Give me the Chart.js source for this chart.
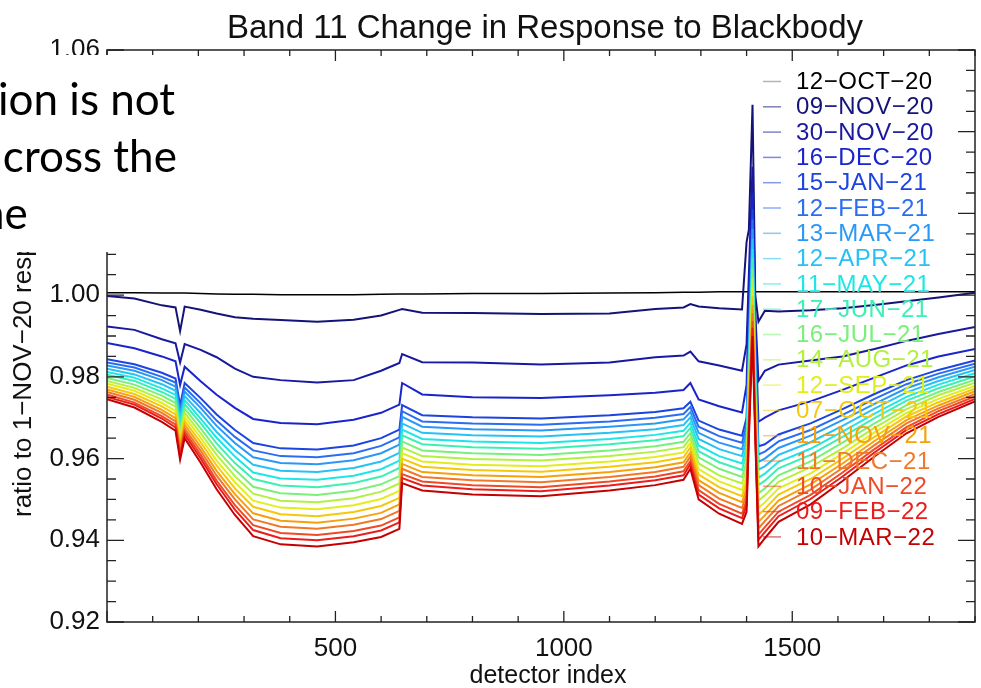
<!DOCTYPE html>
<html>
<head>
<meta charset="utf-8">
<title>Band 11 Change in Response to Blackbody</title>
<script src="https://cdn.jsdelivr.net/npm/chart.js@4.4.1/dist/chart.umd.min.js"></script>
<style>
  html, body { margin: 0; padding: 0; background: #fff; }
  #wrap { width: 981px; height: 688px; }
</style>
</head>
<body>
<div id="wrap"><canvas id="chart" width="981" height="688"></canvas></div>
<script>
"use strict"

const detectorIndex = [0, 60, 120, 150, 160, 170, 205, 240, 280, 320, 380, 460, 540, 600, 640, 646, 690, 800, 950, 1100,
  1200, 1262, 1277, 1295, 1340, 1390, 1400, 1405, 1413, 1419, 1426, 1440, 1470, 1540, 1610, 1680, 1750, 1820, 1900]

const dates = ["12-OCT-20", "09-NOV-20", "30-NOV-20", "16-DEC-20", "15-JAN-21", "12-FEB-21", "13-MAR-21",
  "12-APR-21", "11-MAY-21", "17-JUN-21", "16-JUL-21", "14-AUG-21", "12-SEP-21", "07-OCT-21", "11-NOV-21",
  "11-DEC-21", "10-JAN-22", "09-FEB-22", "10-MAR-22"]

const lineColors = ["#000000", "#141478", "#1818a0", "#1a24cc", "#1c44e0", "#2a6cf2", "#2a98f6", "#26c2f6",
  "#1ee6e6", "#3cf0b4", "#7af07a", "#b4f040", "#e2ee1c", "#f6c80c", "#f6a00c", "#f07828", "#ee4a26",
  "#ec1c1c", "#c40000"]

const xTickLabels = [500, 1000, 1500]
const yTickLabels = [0.92, 0.94, 0.96, 0.98, 1.00, 1.02, 1.04, 1.06]

// ratio curves, one per date
const oct12_20 = [1.0006, 1.0006, 1.0005, 1.0005, 1.0005, 1.0005, 1.0004, 1.0003, 1.0002, 1.0002, 1.0001, 1.0001, 1.0001,
  1.0002, 1.0003, 1.0003, 1.0003, 1.0004, 1.0004, 1.0005, 1.0006, 1.0007, 1.0007, 1.0007, 1.0008, 1.0008, 1.0008,
  1.0008, 1.0008, 1.0008, 1.0008, 1.0008, 1.0008, 1.0008, 1.0008, 1.0008, 1.0008, 1.0008, 1.0008]
const nov09_20 = [0.9998, 0.9992, 0.9975, 0.9970, 0.9912, 0.9972, 0.9964, 0.9955, 0.9946, 0.9942, 0.9939, 0.9935, 0.9940,
  0.9950, 0.9964, 0.9966, 0.9957, 0.9956, 0.9954, 0.9955, 0.9966, 0.9970, 0.9978, 0.9972, 0.9968, 0.9965, 1.0130,
  1.0160, 1.0466, 1.0000, 0.9935, 0.9962, 0.9960, 0.9963, 0.9968, 0.9976, 0.9985, 0.9994, 1.0006]
const nov30_20 = [0.9923, 0.9915, 0.9892, 0.9882, 0.9835, 0.9880, 0.9866, 0.9848, 0.9820, 0.9800, 0.9792, 0.9786, 0.9792,
  0.9815, 0.9834, 0.9856, 0.9836, 0.9835, 0.9830, 0.9835, 0.9848, 0.9852, 0.9862, 0.9838, 0.9828, 0.9815, 0.9880,
  1.0050, 1.0314, 0.9960, 0.9790, 0.9815, 0.9830, 0.9840, 0.9850, 0.9868, 0.9888, 0.9905, 0.9922]
const dec16_20 = [0.9883, 0.9870, 0.9850, 0.9838, 0.9780, 0.9825, 0.9789, 0.9756, 0.9724, 0.9697, 0.9687, 0.9684, 0.9695,
  0.9712, 0.9732, 0.9785, 0.9757, 0.9750, 0.9748, 0.9755, 0.9761, 0.9768, 0.9785, 0.9745, 0.9728, 0.9713, 0.9780,
  1.0000, 1.0250, 0.9930, 0.9690, 0.9700, 0.9718, 0.9740, 0.9768, 0.9798, 0.9828, 0.9850, 0.9868]
const jan15_21 = [0.9843, 0.9831, 0.9810, 0.9796, 0.9730, 0.9785, 0.9748, 0.9708, 0.9670, 0.9638, 0.9625, 0.9622, 0.9632,
  0.9650, 0.9671, 0.9731, 0.9706, 0.9701, 0.9698, 0.9706, 0.9714, 0.9723, 0.9739, 0.9693, 0.9671, 0.9656, 0.9700,
  0.9900, 1.0210, 0.9880, 0.9630, 0.9635, 0.9659, 0.9686, 0.9721, 0.9758, 0.9792, 0.9817, 0.9840]
const feb12_21 = [0.9835, 0.9823, 0.9800, 0.9786, 0.9719, 0.9774, 0.9735, 0.9693, 0.9653, 0.9620, 0.9606, 0.9603, 0.9613,
  0.9631, 0.9652, 0.9716, 0.9691, 0.9686, 0.9683, 0.9691, 0.9700, 0.9709, 0.9726, 0.9678, 0.9655, 0.9639, 0.9682,
  0.9880, 1.0185, 0.9862, 0.9610, 0.9617, 0.9642, 0.9670, 0.9707, 0.9746, 0.9782, 0.9808, 0.9832]
const mar13_21 = [0.9828, 0.9815, 0.9792, 0.9776, 0.9710, 0.9764, 0.9724, 0.9680, 0.9638, 0.9603, 0.9589, 0.9586, 0.9596,
  0.9613, 0.9634, 0.9702, 0.9678, 0.9672, 0.9669, 0.9678, 0.9686, 0.9696, 0.9714, 0.9663, 0.9639, 0.9623, 0.9665,
  0.9862, 1.0162, 0.9845, 0.9592, 0.9600, 0.9626, 0.9656, 0.9694, 0.9734, 0.9772, 0.9799, 0.9825]
const apr12_21 = [0.9820, 0.9806, 0.9782, 0.9766, 0.9699, 0.9753, 0.9711, 0.9665, 0.9621, 0.9585, 0.9570, 0.9567, 0.9577,
  0.9593, 0.9614, 0.9686, 0.9663, 0.9657, 0.9654, 0.9663, 0.9672, 0.9682, 0.9701, 0.9648, 0.9623, 0.9606, 0.9646,
  0.9842, 1.0138, 0.9826, 0.9573, 0.9581, 0.9609, 0.9640, 0.9680, 0.9722, 0.9762, 0.9790, 0.9817]
const may11_21 = [0.9812, 0.9798, 0.9772, 0.9756, 0.9688, 0.9743, 0.9698, 0.9651, 0.9605, 0.9566, 0.9551, 0.9548, 0.9558,
  0.9574, 0.9595, 0.9671, 0.9648, 0.9642, 0.9638, 0.9648, 0.9658, 0.9668, 0.9688, 0.9632, 0.9606, 0.9588, 0.9628,
  0.9822, 1.0113, 0.9808, 0.9553, 0.9563, 0.9592, 0.9624, 0.9666, 0.9710, 0.9751, 0.9781, 0.9809]
const jun17_21 = [0.9805, 0.9790, 0.9763, 0.9746, 0.9678, 0.9733, 0.9687, 0.9637, 0.9589, 0.9550, 0.9534, 0.9530, 0.9540,
  0.9556, 0.9577, 0.9657, 0.9635, 0.9628, 0.9624, 0.9635, 0.9645, 0.9655, 0.9675, 0.9618, 0.9591, 0.9572, 0.9611,
  0.9803, 1.0090, 0.9791, 0.9535, 0.9546, 0.9576, 0.9609, 0.9653, 0.9699, 0.9742, 0.9772, 0.9801]
const jul16_21 = [0.9797, 0.9781, 0.9754, 0.9736, 0.9668, 0.9722, 0.9674, 0.9622, 0.9573, 0.9531, 0.9515, 0.9511, 0.9521,
  0.9537, 0.9557, 0.9642, 0.9620, 0.9613, 0.9609, 0.9620, 0.9630, 0.9641, 0.9662, 0.9603, 0.9575, 0.9555, 0.9592,
  0.9783, 1.0065, 0.9772, 0.9515, 0.9527, 0.9559, 0.9593, 0.9639, 0.9686, 0.9731, 0.9763, 0.9793]
const aug14_21 = [0.9790, 0.9773, 0.9745, 0.9727, 0.9658, 0.9712, 0.9662, 0.9609, 0.9557, 0.9514, 0.9497, 0.9493, 0.9503,
  0.9519, 0.9539, 0.9627, 0.9606, 0.9599, 0.9595, 0.9606, 0.9617, 0.9628, 0.9650, 0.9588, 0.9559, 0.9539, 0.9575,
  0.9764, 1.0042, 0.9755, 0.9497, 0.9510, 0.9543, 0.9579, 0.9625, 0.9675, 0.9721, 0.9755, 0.9786]
const sep12_21 = [0.9783, 0.9766, 0.9736, 0.9717, 0.9648, 0.9702, 0.9651, 0.9595, 0.9542, 0.9497, 0.9480, 0.9476, 0.9486,
  0.9501, 0.9521, 0.9613, 0.9593, 0.9585, 0.9581, 0.9593, 0.9604, 0.9615, 0.9638, 0.9574, 0.9544, 0.9523, 0.9558,
  0.9746, 1.0019, 0.9738, 0.9479, 0.9493, 0.9527, 0.9564, 0.9612, 0.9664, 0.9712, 0.9746, 0.9778]
const oct07_21 = [0.9776, 0.9758, 0.9728, 0.9708, 0.9639, 0.9692, 0.9640, 0.9583, 0.9527, 0.9482, 0.9464, 0.9459, 0.9469,
  0.9484, 0.9504, 0.9600, 0.9580, 0.9572, 0.9568, 0.9580, 0.9591, 0.9603, 0.9627, 0.9561, 0.9530, 0.9508, 0.9542,
  0.9729, 0.9997, 0.9722, 0.9462, 0.9477, 0.9512, 0.9550, 0.9600, 0.9653, 0.9703, 0.9738, 0.9771]
const nov11_21 = [0.9769, 0.9751, 0.9719, 0.9699, 0.9630, 0.9683, 0.9629, 0.9570, 0.9513, 0.9466, 0.9448, 0.9443, 0.9453,
  0.9467, 0.9488, 0.9587, 0.9567, 0.9559, 0.9555, 0.9567, 0.9579, 0.9591, 0.9615, 0.9547, 0.9516, 0.9493, 0.9526,
  0.9711, 0.9976, 0.9706, 0.9445, 0.9461, 0.9497, 0.9537, 0.9588, 0.9643, 0.9694, 0.9730, 0.9765]
const dec11_21 = [0.9763, 0.9744, 0.9712, 0.9691, 0.9621, 0.9674, 0.9619, 0.9558, 0.9500, 0.9451, 0.9433, 0.9428, 0.9438,
  0.9452, 0.9472, 0.9575, 0.9555, 0.9547, 0.9542, 0.9555, 0.9567, 0.9580, 0.9605, 0.9535, 0.9502, 0.9479, 0.9512,
  0.9695, 0.9956, 0.9692, 0.9429, 0.9447, 0.9484, 0.9524, 0.9577, 0.9633, 0.9686, 0.9723, 0.9758]
const jan10_22 = [0.9757, 0.9737, 0.9704, 0.9683, 0.9613, 0.9666, 0.9609, 0.9546, 0.9486, 0.9437, 0.9418, 0.9413, 0.9423,
  0.9436, 0.9456, 0.9562, 0.9544, 0.9535, 0.9530, 0.9544, 0.9556, 0.9569, 0.9594, 0.9523, 0.9489, 0.9465, 0.9497,
  0.9679, 0.9936, 0.9677, 0.9414, 0.9432, 0.9470, 0.9511, 0.9566, 0.9623, 0.9677, 0.9716, 0.9752]
const feb09_22 = [0.9751, 0.9732, 0.9698, 0.9676, 0.9606, 0.9659, 0.9600, 0.9537, 0.9475, 0.9425, 0.9405, 0.9400, 0.9410,
  0.9424, 0.9444, 0.9552, 0.9534, 0.9525, 0.9520, 0.9534, 0.9547, 0.9559, 0.9586, 0.9512, 0.9478, 0.9454, 0.9485,
  0.9666, 0.9920, 0.9665, 0.9401, 0.9420, 0.9459, 0.9501, 0.9556, 0.9615, 0.9670, 0.9709, 0.9746]
const mar10_22 = [0.9745, 0.9725, 0.9690, 0.9668, 0.9597, 0.9650, 0.9590, 0.9525, 0.9462, 0.9410, 0.9390, 0.9385, 0.9395,
  0.9408, 0.9428, 0.9540, 0.9522, 0.9512, 0.9508, 0.9522, 0.9535, 0.9548, 0.9575, 0.9500, 0.9465, 0.9440, 0.9470,
  0.9650, 0.9900, 0.9650, 0.9385, 0.9405, 0.9445, 0.9488, 0.9545, 0.9605, 0.9662, 0.9702, 0.9740]

const allSeries = [oct12_20, nov09_20, nov30_20, dec16_20, jan15_21, feb12_21, mar13_21, apr12_21, may11_21,
  jun17_21, jul16_21, aug14_21, sep12_21, oct07_21, nov11_21, dec11_21, jan10_22, feb09_22, mar10_22]

const chartTitle = "Band 11 Change in Response to Blackbody"
const xTitle = "detector index"
const yTitle = "ratio to 1-NOV-20 response"
const slideLines = ["ion is not", "across the", "ne"]

const axisFont = "'Liberation Sans', Arial, sans-serif"

function makePoints(values){
  return values.map((v, i) => ({x: detectorIndex[i], y: v}))
}

// IDL style box with inward ticks, plus titles and the legend
const plotDecor = {
  id: "plotDecor",
  afterDatasetsDraw(chart){
    const ctx = chart.ctx
    const area = chart.chartArea
    const xs = chart.scales.x
    const ys = chart.scales.y
    ctx.save()
    ctx.strokeStyle = "#222"
    ctx.lineWidth = 1.5
    ctx.strokeRect(area.left, area.top, area.right - area.left, area.bottom - area.top)

    ctx.lineWidth = 1.3
    ctx.beginPath()
    for (let v = 0; v <= 1900; v += 100){
      const px = xs.getPixelForValue(v)
      const len = v % 500 === 0 ? 11 : 6
      ctx.moveTo(px, area.bottom); ctx.lineTo(px, area.bottom - len)
      ctx.moveTo(px, area.top); ctx.lineTo(px, area.top + len)
    }
    for (let k = 0; k <= 28; k++){
      const py = ys.getPixelForValue(0.92 + k * 0.005)
      const len = k % 4 === 0 ? 17 : 9
      ctx.moveTo(area.left, py); ctx.lineTo(area.left + len, py)
      ctx.moveTo(area.right, py); ctx.lineTo(area.right - len, py)
    }
    ctx.stroke()

    // title and axis titles
    ctx.fillStyle = "#111"
    ctx.textAlign = "center"
    ctx.textBaseline = "alphabetic"
    ctx.font = "33px " + axisFont
    ctx.fillText(chartTitle, 545, 38)
    ctx.font = "25px " + axisFont
    ctx.fillText(xTitle, 548, 683)

    ctx.save()
    ctx.translate(31, 517)
    ctx.rotate(-Math.PI / 2)
    ctx.textAlign = "left"
    ctx.font = "26px " + axisFont
    ctx.fillText(yTitle.replace(/-/g, "\u2212"), 0, 0)
    ctx.restore()

    // legend
    ctx.font = "24px " + axisFont
    ctx.textAlign = "left"
    ctx.textBaseline = "middle"
    ctx.letterSpacing = "0.5px"
    dates.forEach((d, i) => {
      const y = 81.5 + i * 25.3
      ctx.globalAlpha = 0.55
      ctx.strokeStyle = i === 0 ? "#777" : lineColors[i]
      ctx.lineWidth = 1.5
      ctx.beginPath()
      ctx.moveTo(763, y)
      ctx.lineTo(781, y)
      ctx.stroke()
      ctx.globalAlpha = 1
      ctx.fillStyle = lineColors[i]
      ctx.fillText(d.replace(/-/g, "\u2212"), 796, y + 1)
    })
    ctx.restore()
  },
  afterDraw(chart){
    // the slide text box that sits over the left of the plot
    const ctx = chart.ctx
    ctx.save()
    ctx.fillStyle = "#fff"
    ctx.fillRect(0, 55, 186, 197)
    ctx.fillStyle = "#000"
    ctx.font = "44px Lato, 'Open Sans', sans-serif"
    ctx.textBaseline = "alphabetic"
    ctx.fillText(slideLines[0], -2, 115)
    ctx.fillText(slideLines[1], -19, 172)
    ctx.fillText(slideLines[2], -20, 229)
    ctx.restore()
  }
}

const datasets = allSeries.map((vals, i) => ({
  label: dates[i],
  data: makePoints(vals),
  borderColor: lineColors[i],
  borderWidth: i === 0 ? 1.5 : 2,
  pointRadius: 0,
  tension: 0,
  order: allSeries.length - i,
}))

const config = {
  type: "line",
  data: { datasets: datasets },
  options: {
    responsive: false,
    animation: false,
    devicePixelRatio: 1,
    layout: { padding: { top: 50, right: 6, left: 0, bottom: 0 } },
    plugins: {
      legend: { display: false },
      tooltip: { enabled: false },
      title: { display: false },
    },
    scales: {
      x: {
        type: "linear",
        min: 0,
        max: 1900,
        grid: { display: false, drawTicks: false },
        border: { display: false },
        afterBuildTicks: (scale) => { scale.ticks = xTickLabels.map(v => ({value: v})) },
        afterFit: (scale) => { scale.height = 66 },
        ticks: {
          autoSkip: false,
          maxRotation: 0,
          padding: 11,
          color: "#111",
          font: { family: axisFont, size: 26 },
          callback: (v) => String(v),
        },
      },
      y: {
        type: "linear",
        min: 0.92,
        max: 1.06,
        grid: { display: false, drawTicks: false },
        border: { display: false },
        afterBuildTicks: (scale) => { scale.ticks = yTickLabels.map(v => ({value: v})) },
        afterFit: (scale) => { scale.width = 107 },
        ticks: {
          autoSkip: false,
          padding: 7,
          color: "#111",
          font: { family: axisFont, size: 26 },
          callback: (v) => Number(v).toFixed(2),
        },
      },
    },
  },
  plugins: [plotDecor],
}

const bandChart = new Chart(document.getElementById("chart"), config)
console.log("chart drawn", bandChart.chartArea)
</script>
</body>
</html>
